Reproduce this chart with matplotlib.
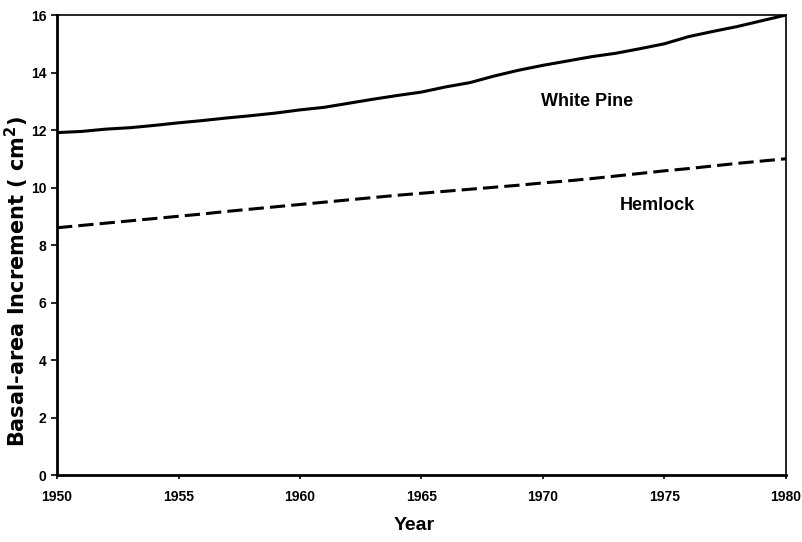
import numpy as np
import matplotlib
matplotlib.use("Agg")
import matplotlib.pyplot as plt

plt.rcParams['font.family'] = ['Liberation Sans', 'DejaVu Sans']
plt.rcParams['font.weight'] = 'bold'

# data
years = np.arange(1950, 1981)
white_pine = [11.91, 11.95, 12.03, 12.08, 12.16, 12.25, 12.33, 12.42, 12.50, 12.59,
              12.70, 12.79, 12.93, 13.07, 13.20, 13.32, 13.50, 13.65, 13.88, 14.08,
              14.25, 14.40, 14.55, 14.67, 14.83, 15.00, 15.25, 15.43, 15.60, 15.80,
              16.00]
hemlock = [8.60, 8.68, 8.76, 8.84, 8.92, 9.00, 9.08, 9.17, 9.25, 9.33,
           9.41, 9.49, 9.57, 9.65, 9.73, 9.80, 9.87, 9.94, 10.01, 10.08,
           10.16, 10.23, 10.31, 10.40, 10.49, 10.58, 10.66, 10.75, 10.84, 10.92,
           11.00]

fig = plt.figure(figsize=(8.02, 5.42), dpi=100)
ax = fig.add_axes([0.0711, 0.1236, 0.9089, 0.8487])

ax.plot(years, white_pine, color='black', lw=2.2, solid_joinstyle='round')
ax.plot(years, hemlock, color='black', lw=2.2, dashes=(5, 2))

ax.text(1971.8, 12.99, 'White Pine', fontsize=13, fontweight='bold', ha='center', va='center')
ax.text(1974.7, 9.36, 'Hemlock', fontsize=13, fontweight='bold', ha='center', va='center')

ax.set_xlim(1950, 1980)
ax.set_ylim(0, 16)
ax.set_xticks(np.arange(1950, 1981, 5))
ax.set_yticks(np.arange(0, 17, 2))
ax.tick_params(direction='out', length=4, width=1.2, labelsize=10, pad=3.5)
ax.tick_params(axis='x', length=3, pad=8)
for lab in ax.get_xticklabels() + ax.get_yticklabels():
    lab.set_fontweight('bold')

ax.spines['left'].set_linewidth(2)
ax.spines['bottom'].set_linewidth(2)
ax.spines['top'].set_linewidth(1.2)
ax.spines['right'].set_linewidth(1.2)

ax.set_xlabel('Year', fontsize=14, fontweight='bold')
ax.xaxis.set_label_coords(0.49, -0.092)
ax.set_ylabel('Basal-area Increment ( cm$^\\mathbf{2}$)', fontsize=15,
              fontweight='bold', family=['DejaVu Sans'])
ax.yaxis.set_label_coords(-0.036, 0.42)

fig.savefig('out.png', dpi=100)
